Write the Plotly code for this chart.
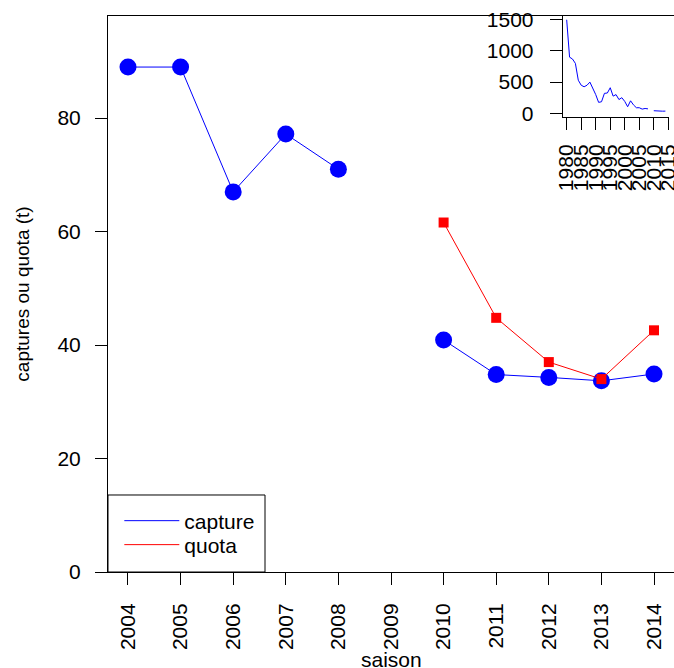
import plotly.graph_objects as go

# Main chart data
seasons = [2004, 2005, 2006, 2007, 2008, 2009, 2010, 2011, 2012, 2013, 2014]
capture = [89, 89, 67, 77.2, 71, None, 40.9, 34.8, 34.3, 33.7, 34.9]
quota_years = [2010, 2011, 2012, 2013, 2014]
quota = [61.6, 44.8, 37.0, 34.0, 42.6]

# Inset: long-term catch history
hist_years = list(range(1980, 2015))
hist_catch = [1500, 900, 870, 800, 530, 450, 425, 450, 500, 410, 300, 175, 185,
              320, 325, 410, 275, 300, 220, 250, 190, 105, 200, 135,
              89, 89, 67, 77.2, 71, None, 40.9, 34.8, 34.3, 33.7, 34.9]

main_yticks = [0, 20, 40, 60, 80]
inset_yticks = [0, 500, 1000, 1500]
inset_xticks = [1980, 1985, 1990, 1995, 2000, 2005, 2010, 2015]

FONT = "Liberation Sans, Arial, sans-serif"
FS = 21

fig = go.Figure()

fig.add_trace(go.Scatter(x=seasons, y=capture, mode="lines+markers",
                         line=dict(color="blue", width=1),
                         marker=dict(color="blue", size=17, symbol="circle"),
                         showlegend=False, connectgaps=False))
fig.add_trace(go.Scatter(x=quota_years, y=quota, mode="lines+markers",
                         line=dict(color="red", width=1),
                         marker=dict(color="red", size=10, symbol="square"),
                         showlegend=False))
# legend entries (lines only), one legend per entry for R-like spacing
fig.add_trace(go.Scatter(x=[None], y=[None], mode="lines", name="capture",
                         line=dict(color="blue", width=1), legend="legend"))
fig.add_trace(go.Scatter(x=[None], y=[None], mode="lines", name="quota",
                         line=dict(color="red", width=1), legend="legend2"))

fig.add_trace(go.Scatter(x=hist_years, y=hist_catch, mode="lines",
                         line=dict(color="blue", width=1),
                         xaxis="x2", yaxis="y2", showlegend=False,
                         connectgaps=False))

axis_common = dict(ticks="outside", ticklen=12, tickwidth=1, tickcolor="black",
                   showline=True, linecolor="black", linewidth=1,
                   showgrid=False, zeroline=False, automargin=False)

leg_common = dict(xanchor="left", yanchor="middle", bgcolor="rgba(0,0,0,0)",
                  borderwidth=0, font=dict(family=FONT, size=FS, color="black"),
                  itemwidth=55)

fig.update_layout(
    width=674, height=668,
    margin=dict(l=108, r=0, t=16, b=96),
    paper_bgcolor="white", plot_bgcolor="white",
    font=dict(family=FONT, size=FS, color="black"),
    xaxis=dict(range=[2003.62, 2014.38], tickmode="array", tickvals=seasons,
               ticktext=[str(s) for s in seasons], tickangle=-90,
               ticklabelstandoff=10, mirror=True, **axis_common),
    yaxis=dict(range=[0, 98], tickmode="array", tickvals=main_yticks,
               ticklabelstandoff=10, mirror=True,
               title=dict(text="captures ou quota (t)", standoff=22,
                          font=dict(family=FONT, size=19)), **axis_common),
    xaxis2=dict(domain=[0.8034, 0.9918], range=[1978.64, 2015.36], anchor="y2",
                tickmode="array", tickvals=inset_xticks, tickangle=-90,
                ticklabelstandoff=6, ticklabeloverflow="allow", **axis_common),
    yaxis2=dict(domain=[0.8183, 1.0], range=[-60, 1560], anchor="x2",
                tickmode="array", tickvals=inset_yticks,
                ticklabelstandoff=12, ticklabeloverflow="allow", **axis_common),
    legend=dict(x=0.02, y=0.0917, **leg_common),
    legend2=dict(x=0.02, y=0.0486, **leg_common),
    shapes=[dict(type="rect", xref="paper", yref="paper", x0=0, x1=0.2774,
                 y0=0, y1=0.1385, line=dict(color="black", width=1),
                 fillcolor="rgba(0,0,0,0)", layer="above")],
    annotations=[dict(text="saison", xref="paper", yref="paper", x=0.5,
                      y=-0.1565, xanchor="center", yanchor="middle",
                      showarrow=False, font=dict(family=FONT, size=FS))],
)

fig.write_html("out.html", config={"displayModeBar": False},
               post_script="document.body.style.margin='0';"
                           "document.body.style.overflow='hidden';")
